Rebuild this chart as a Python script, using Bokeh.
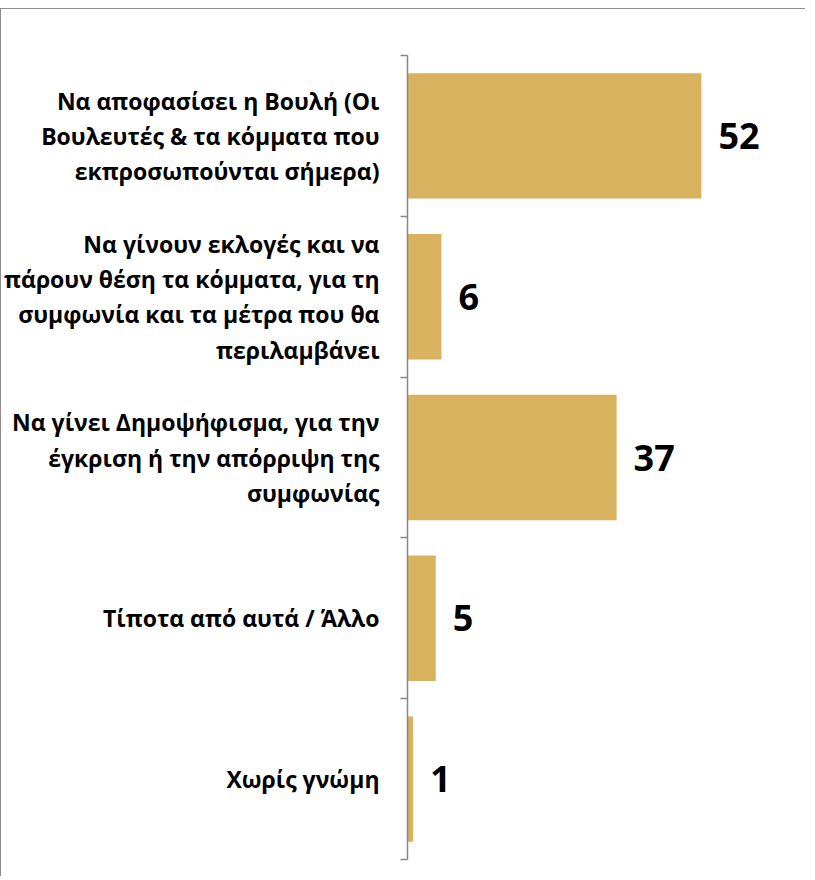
from bokeh.plotting import figure
from bokeh.models import ColumnDataSource, Range1d, LinearAxis, FixedTicker
from bokeh.core.properties import value
from bokeh.embed import file_html
from bokeh.resources import INLINE

# ---- data (top to bottom as in the chart) ----
categories = [
    "Να αποφασίσει η Βουλή (Οι\nΒουλευτές & τα κόμματα που\nεκπροσωπούνται σήμερα)",
    "Να γίνουν εκλογές και να\nπάρουν θέση τα κόμματα, για τη\nσυμφωνία και τα μέτρα που θα\nπεριλαμβάνει",
    "Να γίνει Δημοψήφισμα, για την\nέγκριση ή την απόρριψη της\nσυμφωνίας",
    "Τίποτα από αυτά / Άλλο",
    "Χωρίς γνώμη",
]
values = [52, 6, 37, 5, 1]
value_labels = [str(v) for v in values]

BAR = "#D8B25E"
AXIS = "#868686"
FONT = "Open Sans"

n = len(categories)
# category slots: first category on top
pos = [n - i - 0.5 for i in range(n)]
edges = [float(k) for k in range(n + 1)]
src = ColumnDataSource(dict(y=pos, val=values, lab=value_labels))

p = figure(width=805, height=868, output_backend="svg", toolbar_location=None,
           y_range=Range1d(0, n), x_range=Range1d(0, 70.6),
           x_axis_location=None, y_axis_location=None,
           min_border_left=396, min_border_right=0,
           min_border_top=46, min_border_bottom=18)
p.styles = {"margin-top": "8px",
            "border-left": "1px solid #8c8c8c", "border-top": "1px solid #8c8c8c"}
p.outline_line_color = None
p.xgrid.visible = False
p.ygrid.visible = False
p.background_fill_color = "white"
p.border_fill_color = "white"

p.hbar(y="y", right="val", left=0, height=0.78, source=src,
       fill_color=BAR, line_color=None)
p.text(x="val", y="y", text="lab", source=src, x_offset=17,
       text_align="left", text_baseline="middle",
       text_font=value(FONT), text_font_size="36px",
       text_font_style="bold", text_color="black")

yaxis = LinearAxis(ticker=FixedTicker(ticks=pos, minor_ticks=edges),
                   major_label_overrides={y: c for y, c in zip(pos, categories)},
                   major_tick_out=0, major_tick_in=0,
                   minor_tick_out=7, minor_tick_in=0,
                   axis_line_color=AXIS, minor_tick_line_color=AXIS,
                   major_tick_line_color=None,
                   axis_line_width=1.5, minor_tick_line_width=1.5,
                   major_label_standoff=21,
                   major_label_text_font=FONT,
                   major_label_text_font_style="bold",
                   major_label_text_font_size="23px",
                   major_label_text_color="black",
                   major_label_text_line_height=1.1)
p.add_layout(yaxis, "left")

open("out.html", "w").write(file_html(p, INLINE))
